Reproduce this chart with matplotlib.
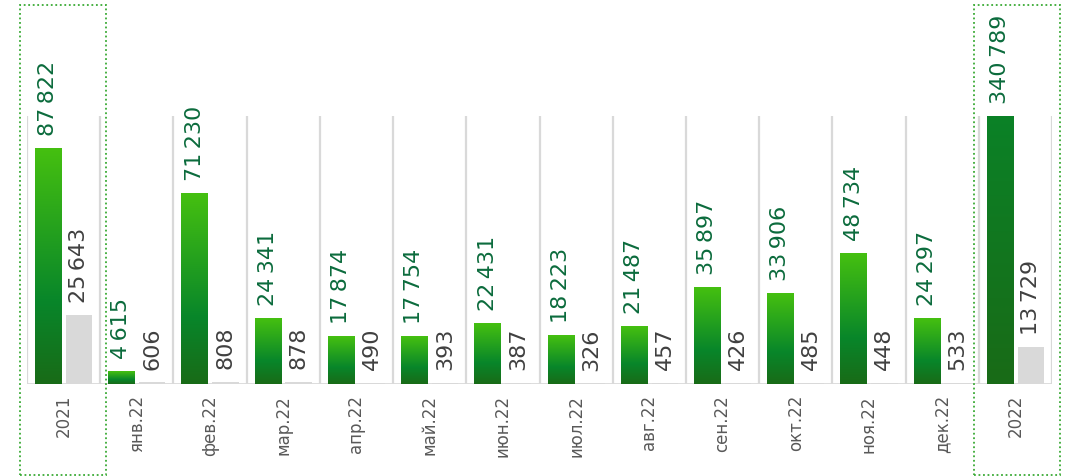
import numpy as np
import matplotlib
matplotlib.use('Agg')
import matplotlib.pyplot as plt
from matplotlib.colors import LinearSegmentedColormap
from matplotlib.patches import Rectangle

plt.rcParams['font.family'] = ['DejaVu Sans']

categories = ['2021', 'янв.22', 'фев.22', 'мар.22', 'апр.22', 'май.22', 'июн.22',
              'июл.22', 'авг.22', 'сен.22', 'окт.22', 'ноя.22', 'дек.22', '2022']
green_vals = [87822, 4615, 71230, 24341, 17874, 17754, 22431,
              18223, 21487, 35897, 33906, 48734, 24297, 340789]
gray_vals = [25643, 606, 808, 878, 490, 393, 387,
             326, 457, 426, 485, 448, 533, 13729]

YMAX = 100000
BW = 0.36
OFF = 0.21

def fmt(v):
    return f'{v:,}'.replace(',', '\u2009')

grad = LinearSegmentedColormap.from_list(
    'grn', [(0, '#196b17'), (0.35, '#08862a'), (1.0, '#45c010')])

fig = plt.figure(figsize=(10.68, 4.76), dpi=100)
ax = fig.add_axes([27 / 1068, 1 - 384 / 476, 1025 / 1068, 268 / 476])
n = len(categories)
x = np.arange(n)

# separators between months
for b in np.arange(n + 1) - 0.5:
    ax.axvline(b, color='#d9d9d9', lw=1.6, zorder=1)
ax.axhline(0, color='#d9d9d9', lw=2, zorder=1)

# green bars: gradient spans the full value, only the visible part is drawn
g_bars = ax.bar(x - OFF, green_vals, width=BW, color='none', zorder=2)
for bar, v in zip(g_bars, green_vals):
    x0 = bar.get_x()
    top = min(v, YMAX)
    ramp = np.linspace(0, top / v, 256).reshape(-1, 1)
    ax.imshow(ramp, cmap=grad, vmin=0, vmax=1, origin='lower', aspect='auto',
              extent=[x0, x0 + bar.get_width(), 0, top], zorder=2)

ax.bar(x + OFF, gray_vals, width=BW, color='#d9d9d9', zorder=2)

ax.set_xlim(-0.5, n - 0.5)
ax.set_ylim(0, YMAX)

for xi, v in zip(x, green_vals):
    ax.annotate(fmt(v), (xi - OFF, min(v, YMAX)), xytext=(0, 9),
                textcoords='offset points', rotation=90, ha='center', va='bottom',
                fontsize=16, color='#0b6b3c', annotation_clip=False)
for xi, v in zip(x, gray_vals):
    ax.annotate(fmt(v), (xi + OFF, v), xytext=(0, 9),
                textcoords='offset points', rotation=90, ha='center', va='bottom',
                fontsize=16, color='#404040', annotation_clip=False)

ax.set_xticks(x)
ax.set_xticklabels(categories, rotation=90, fontsize=12, color='#595959')
ax.tick_params(axis='x', length=0, pad=8)
ax.set_yticks([])
for s in ax.spines.values():
    s.set_visible(False)

# dotted frames around yearly totals
for left in (20, 974):
    fig.patches.append(Rectangle((left / 1068, 1 / 476), 86 / 1068, 470 / 476,
                                 transform=fig.transFigure, fill=False,
                                 ec='#3aaa35', lw=1.3, ls=(0, (1, 1.5))))

fig.savefig('out.png', dpi=100)
